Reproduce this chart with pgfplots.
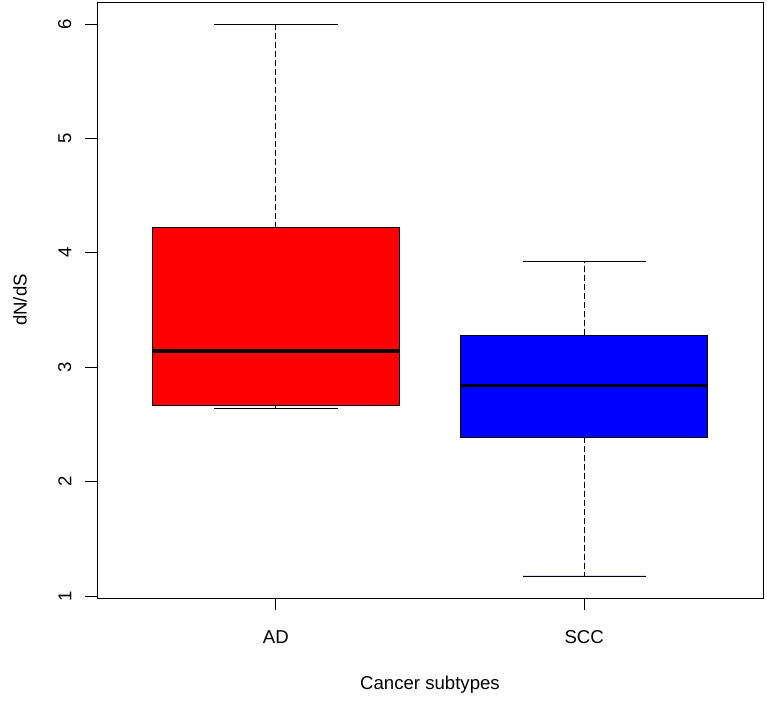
\documentclass[border=0pt]{standalone}
\usepackage{fontspec}
\setmainfont{Liberation Sans}
\usepackage{pgfplots}
\usepgfplotslibrary{statistics}
\pgfplotsset{compat=1.18}
\begin{document}
\fontsize{18.6bp}{22bp}\selectfont
\begin{tikzpicture}
\begin{axis}[
  scale only axis, width=666bp, height=596bp,
  xmin=0.42, xmax=2.58, ymin=0.982, ymax=6.193,
  xtick={1,2}, xticklabels={AD,SCC},
  ytick={1,2,3,4,5,6},
  /pgf/number format/assume math mode=true,
  axis line style={line width=0.8bp},
  tick style={black, line width=0.8bp},
  tick align=outside, major tick length=11.5bp,
  xtick pos=bottom, ytick pos=left,
  yticklabel style={xshift=-14bp, rotate=90, anchor=south, inner sep=0pt},
  xticklabel style={anchor=north, inner sep=0pt, yshift=-21bp},
  xlabel={Cancer subtypes},
  ylabel={dN/dS},
  xlabel style={at={(axis description cs:0.5,0)}, anchor=base, yshift=-91bp},
  ylabel style={at={([xshift=-77bp]axis description cs:0,0.5)}, anchor=center, rotate=0},
  boxplot/draw direction=y,
  boxplot/every median/.style={line width=3.5bp},
  boxplot/draw/lower whisker/.code={
    \draw[dash pattern=on 6bp off 3bp] (boxplot cs:\pgfplotsboxplotvalue{lower quartile}) -- (boxplot cs:\pgfplotsboxplotvalue{lower whisker});
    \draw[solid] (boxplot whisker cs:\pgfplotsboxplotvalue{lower whisker},0) -- (boxplot whisker cs:\pgfplotsboxplotvalue{lower whisker},1);
  },
  boxplot/draw/upper whisker/.code={
    \draw[dash pattern=on 6bp off 3bp] (boxplot cs:\pgfplotsboxplotvalue{upper quartile}) -- (boxplot cs:\pgfplotsboxplotvalue{upper whisker});
    \draw[solid] (boxplot whisker cs:\pgfplotsboxplotvalue{upper whisker},0) -- (boxplot whisker cs:\pgfplotsboxplotvalue{upper whisker},1);
  },
]
\addplot[boxplot prepared={draw position=1, lower whisker=2.64, lower quartile=2.667, median=3.14, upper quartile=4.22, upper whisker=6.0, box extend=0.8, whisker extend=0.4}, draw=black, fill=red, line width=0.8bp] coordinates {};
\addplot[boxplot prepared={draw position=2, lower whisker=1.175, lower quartile=2.389, median=2.84, upper quartile=3.28, upper whisker=3.924, box extend=0.8, whisker extend=0.4}, draw=black, fill=blue, line width=0.8bp] coordinates {};
\end{axis}
\path ([xshift=-97bp,yshift=-106bp]current axis.south west) rectangle ([xshift=4bp,yshift=2bp]current axis.north east);
\end{tikzpicture}
\end{document}
